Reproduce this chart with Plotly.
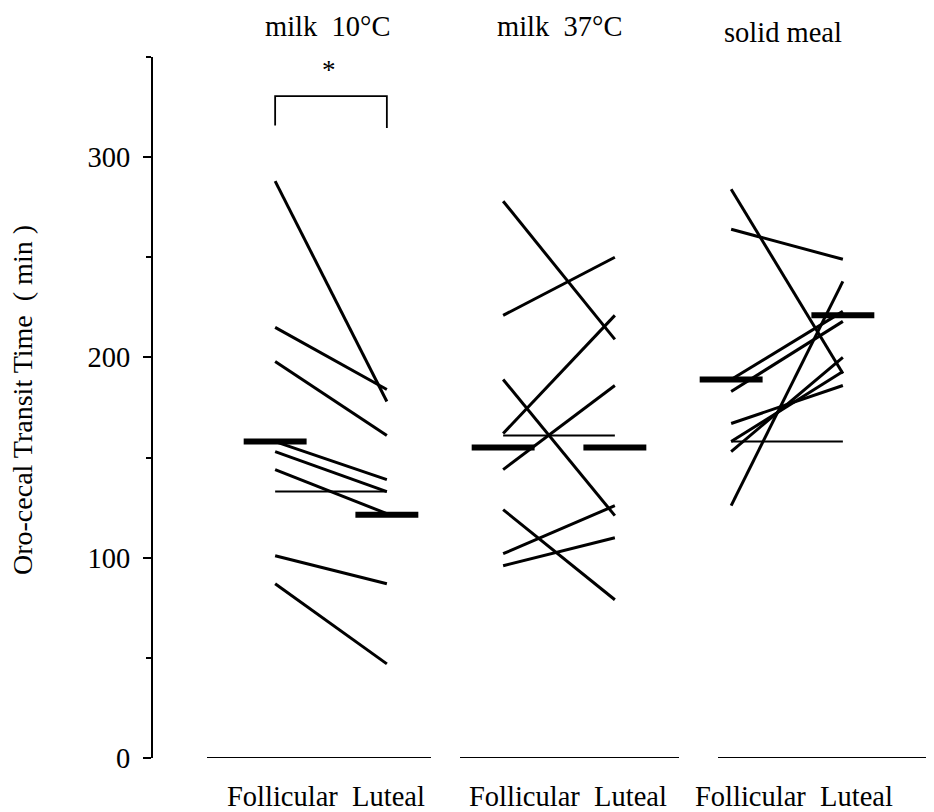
import plotly.graph_objects as go

# ---------------- data ----------------
group_titles = ["milk  10°C", "milk  37°C", "solid meal"]
phase_label = "Follicular  Luteal"
y_tickvals = [0, 100, 200, 300]
y_ticktext = ["0", "100", "200", "300"]
y_title = "Oro-cecal Transit Time  ( min )"

milk10_follicular = [288, 215, 198, 158, 153, 144, 133, 101, 87]
milk10_luteal = [178, 184, 161, 139, 133, 122, 133, 87, 47]

milk37_follicular = [278, 221, 189, 144, 161, 162, 124, 102, 96]
milk37_luteal = [209, 250, 121, 186, 161, 221, 79, 126, 110]

solid_follicular = [284, 264, 126, 183, 189, 167, 158, 153, 158]
solid_luteal = [192, 249, 238, 218, 223, 186, 193, 200, 158]

mean_follicular = [158, 155, 189]
mean_luteal = [121.5, 155, 221]

significance = ["*", "", ""]

# ---------------- layout constants ----------------
PAGE_OFF = 8                      # browser body margin
W, H = 934 - PAGE_OFF, 812 - PAGE_OFF
L_PX, R_PX, T_PX, B_PX = 153, 934, 57, 758   # plot area in window pixels
X_RANGE = [0.2193, 3.6447]
Y_RANGE = [0, 350]
OFF = 0.245        # half distance between Follicular and Luteal
BAR_HALF = 0.138   # half width of mean bars
FONT = "Liberation Serif, Times New Roman, serif"


def pxx(px):
    return (px - L_PX) / (R_PX - L_PX)


def pxy(py):
    return (B_PX - py) / (B_PX - T_PX)


fig = go.Figure()

groups = [
    (milk10_follicular, milk10_luteal),
    (milk37_follicular, milk37_luteal),
    (solid_follicular, solid_luteal),
]

for gi, (fol, lut) in enumerate(groups):
    c = gi + 1
    xs, ys, xh, yh = [], [], [], []
    for f, l in zip(fol, lut):
        if f == l:
            xh += [c - OFF, c + OFF, None]
            yh += [f, l, None]
        else:
            xs += [c - OFF, c + OFF, None]
            ys += [f, l, None]
    fig.add_trace(go.Scatter(x=xs, y=ys, mode="lines",
                             line=dict(color="black", width=3),
                             hoverinfo="skip", showlegend=False))
    fig.add_trace(go.Scatter(x=xh, y=yh, mode="lines",
                             line=dict(color="black", width=2),
                             hoverinfo="skip", showlegend=False))

# mean bars
mx, my = [], []
for gi in range(3):
    c = gi + 1
    for xc, m in ((c - OFF, mean_follicular[gi]), (c + OFF, mean_luteal[gi])):
        mx += [xc - BAR_HALF, xc + BAR_HALF, None]
        my += [m, m, None]
fig.add_trace(go.Scatter(x=mx, y=my, mode="lines",
                         line=dict(color="black", width=6),
                         hoverinfo="skip", showlegend=False))

shapes = []
# baselines under each group (pixel spans)
for a, b in [(207, 431), (460, 679), (718, 934)]:
    shapes.append(dict(type="line", xref="paper", yref="y",
                       x0=pxx(a), x1=pxx(b), y0=0, y1=0,
                       line=dict(color="black", width=2)))

annotations = []
for gi, sig in enumerate(significance):
    c = gi + 1
    if sig:
        shapes.append(dict(type="path", xref="x", yref="y",
                           path=f"M {c-OFF},{315.8} L {c-OFF},{330.5} L {c+OFF},{330.5} L {c+OFF},{314.5}",
                           line=dict(color="black", width=1.8)))
        annotations.append(dict(x=c - 0.01, y=pxy(70), xref="x", yref="paper",
                                text=sig, showarrow=False,
                                font=dict(family=FONT, size=27, color="black"),
                                xanchor="center", yanchor="middle"))

# group titles
title_px = [(327, 26), (559, 26), (783, 33)]
for t, (xp, yp) in zip(group_titles, title_px):
    annotations.append(dict(x=pxx(xp), y=pxy(yp), xref="paper", yref="paper",
                            text=t, showarrow=False,
                            font=dict(family=FONT, size=28.5, color="black"),
                            xanchor="center", yanchor="middle"))

# phase labels under each group
label_px = [326, 568, 794]
for xp in label_px:
    annotations.append(dict(x=pxx(xp), y=pxy(796), xref="paper", yref="paper",
                            text=phase_label, showarrow=False,
                            font=dict(family=FONT, size=28.5, color="black"),
                            xanchor="center", yanchor="middle"))

# y-axis title
annotations.append(dict(x=pxx(23), y=pxy(400), xref="paper", yref="paper",
                        text=y_title, showarrow=False, textangle=-90,
                        font=dict(family=FONT, size=28, color="black"),
                        xanchor="center", yanchor="middle"))

fig.update_layout(
    width=W, height=H,
    margin=dict(l=L_PX - PAGE_OFF, r=W - (R_PX - PAGE_OFF),
                t=T_PX - PAGE_OFF, b=H - (B_PX - PAGE_OFF), pad=0),
    paper_bgcolor="white", plot_bgcolor="white",
    showlegend=False,
    shapes=shapes, annotations=annotations,
    xaxis=dict(range=X_RANGE, visible=False, fixedrange=True),
    yaxis=dict(range=Y_RANGE, showgrid=False, zeroline=False,
               showline=True, linecolor="black", linewidth=2,
               ticks="outside", ticklen=8, tickwidth=2, tickcolor="black",
               tickvals=y_tickvals, ticktext=y_ticktext,
               ticklabelstandoff=7,
               tickfont=dict(family=FONT, size=28.5, color="black"),
               minor=dict(ticks="outside", ticklen=5, tickwidth=2,
                          tickcolor="black", dtick=50, showgrid=False),
               fixedrange=True),
)

fig.write_html("out.html")
